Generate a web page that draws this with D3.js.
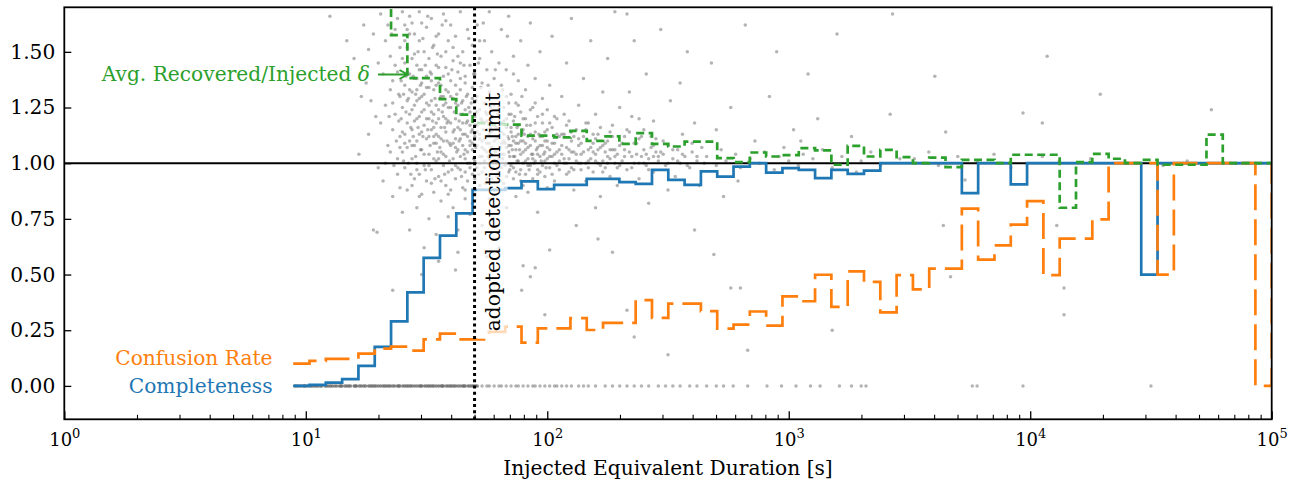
<!DOCTYPE html>
<html>
<head>
<meta charset="utf-8">
<title>Injection-recovery</title>
<script src="https://d3js.org/d3.v7.min.js"></script>
<style>
  body { margin: 0; background: #fff; }
  text { font-family: "DejaVu Serif", serif; }
</style>
</head>
<body>
<div id="chart"></div>
<script>
// histogram bins: 60 log-spaced bins from ~8.9 s up to 1e5 s, plus one bin past the axis
const binLo = 8.87, binHi = 1e5, nBins = 60;

// completeness per bin (last value lies beyond the x limit)
const completeness = [
  0.0, 0.005, 0.015, 0.03, 0.09, 0.175, 0.29, 0.42, 0.575, 0.675,
  0.775, 0.88, 0.88, 0.888, 0.918, 0.884, 0.903, 0.903, 0.93, 0.93,
  0.915, 0.907, 0.97, 0.925, 0.903, 0.963, 0.94, 0.985, 1.0, 0.958,
  0.978, 0.97, 0.933, 0.97, 0.952, 0.967, 1.0, 1.0, 1.0, 1.0,
  1.0, 0.866, 1.0, 1.0, 0.905, 1.0, 1.0, 1.0, 1.0, 1.0,
  1.0, 1.0, 0.5, 1.0, 1.0, 1.0, 1.0, 1.0, 1.0, 1.0,
  1.0
];

// confusion rate per bin
const confusion = [
  0.10, 0.112, 0.121, 0.121, 0.145, 0.167, 0.176, 0.158, 0.209, 0.235,
  0.209, 0.209, 0.243, 0.266, 0.194, 0.258, 0.258, 0.304, 0.251, 0.283,
  0.283, 0.385, 0.305, 0.369, 0.369, 0.336, 0.257, 0.275, 0.334, 0.271,
  0.402, 0.38, 0.499, 0.355, 0.514, 0.467, 0.33, 0.497, 0.433, 0.527,
  0.527, 0.796, 0.567, 0.631, 0.724, 0.83, 0.497, 0.661, 0.661, 0.748,
  1.0, 1.0, 1.0, 0.5, 1.0, 1.0, 1.0, 1.0, 1.0, 0.0,
  1.0
];

// average recovered / injected equivalent duration per bin (null = no value)
const ratio = [
  null, null, null, null, null, 1.9, 1.575, 1.382, 1.382, 1.288,
  1.218, 1.18, 1.175, 1.173, 1.124, 1.124, 1.116, 1.145, 1.10, 1.12,
  1.087, 1.135, 1.087, 1.075, 1.097, 1.097, 1.023, 1.005, 1.048, 1.03,
  1.036, 1.068, 1.058, 0.993, 1.078, 1.03, 1.06, 1.027, 1.0, 1.025,
  0.982, 1.015, 1.015, 1.0, 1.038, 1.038, 1.038, 0.8, 1.005, 1.042,
  1.02, 1.0, 1.015, 0.993, 0.993, 0.993, 1.128, 1.0, 1.0, 1.0,
  1.0
];

// individual injections: [log10 injected ED, recovered/injected ED]
const recovered = [
  [1.10,1.66],[1.17,1.55],[1.20,1.47],[1.22,1.04],[1.24,1.62],[1.25,1.36],[1.26,1.13],[1.27,1.28],[1.28,0.70],[1.28,1.58],
  [1.29,1.21],[1.30,1.45],[1.30,0.98],[1.23,1.30],[1.26,1.51],
  [1.31,1.67],[1.31,1.18],[1.32,1.40],[1.32,0.92],[1.33,1.55],[1.33,1.26],[1.34,1.08],[1.34,1.62],[1.35,1.33],[1.35,1.48],
  [1.36,1.15],[1.36,0.85],[1.37,1.60],[1.37,1.22],[1.38,1.41],[1.38,1.02],[1.38,0.95],[1.39,1.30],[1.39,1.52],[1.39,1.12],
  [1.40,1.68],[1.40,0.78],[1.36,1.37],[1.33,1.00],
  [1.40,1.25],[1.40,1.05],[1.41,1.45],[1.41,1.35],[1.41,0.98],[1.41,1.62],[1.42,1.18],[1.42,1.28],[1.42,0.88],[1.42,1.52],
  [1.43,1.10],[1.43,1.40],[1.43,1.22],[1.43,0.70],[1.43,1.66],[1.44,1.32],[1.44,1.02],[1.44,1.47],[1.44,1.15],[1.45,1.38],
  [1.45,0.93],[1.45,1.26],[1.45,1.58],[1.45,1.08],[1.46,1.20],[1.46,1.44],[1.46,0.80],[1.46,1.33],[1.46,1.00],[1.47,1.13],
  [1.47,1.29],[1.47,1.55],[1.47,0.95],[1.47,1.68],[1.48,1.36],[1.48,1.06],[1.48,1.23],[1.48,1.42],[1.48,0.86],[1.49,1.17],
  [1.49,1.31],[1.49,1.50],[1.49,0.99],[1.49,0.62],[1.50,1.27],[1.50,1.11],[1.50,1.39],[1.50,1.61],[1.44,1.24],[1.46,1.10],
  [1.50,0.92],[1.51,1.20],[1.51,1.34],[1.51,1.04],[1.51,1.47],[1.51,0.75],[1.52,1.15],[1.52,1.28],[1.52,1.65],[1.52,0.97],
  [1.52,1.40],[1.53,1.09],[1.53,1.22],[1.53,1.53],[1.53,0.87],[1.53,1.33],[1.54,1.01],[1.54,1.18],[1.54,1.44],[1.54,1.26],
  [1.54,0.68],[1.55,1.12],[1.55,1.36],[1.55,0.94],[1.55,1.58],[1.55,1.24],[1.56,1.05],[1.56,1.30],[1.56,1.16],[1.56,1.48],
  [1.56,0.83],[1.57,1.21],[1.57,0.99],[1.57,1.39],[1.57,1.10],[1.57,1.67],[1.58,1.27],[1.58,0.90],[1.58,1.14],[1.58,1.43],
  [1.58,1.03],[1.59,1.19],[1.59,1.32],[1.59,0.96],[1.59,1.55],[1.59,0.76],[1.60,1.08],[1.60,1.25],[1.60,1.37],[1.60,0.88],
  [1.53,1.12],[1.55,1.02],[1.57,1.30],[1.54,1.09],[1.58,1.20],
  [1.60,1.62],[1.61,1.14],[1.61,1.02],[1.61,1.29],[1.61,1.46],[1.61,0.80],[1.62,1.20],[1.62,0.93],[1.62,1.35],[1.62,1.07],
  [1.62,1.57],[1.63,1.16],[1.63,1.26],[1.63,0.98],[1.63,1.41],[1.63,0.70],[1.64,1.11],[1.64,1.22],[1.64,1.03],[1.64,1.33],
  [1.64,1.68],[1.65,0.89],[1.65,1.18],[1.65,1.08],[1.65,1.50],[1.65,1.28],[1.66,0.96],[1.66,1.13],[1.66,1.24],[1.66,1.39],
  [1.66,0.84],[1.67,1.05],[1.67,1.19],[1.67,1.31],[1.67,1.60],[1.67,0.92],[1.68,1.10],[1.68,1.00],[1.68,1.23],[1.68,1.44],
  [1.68,0.77],[1.69,1.15],[1.69,1.06],[1.69,1.34],[1.69,0.95],[1.69,1.53],[1.70,1.12],[1.70,1.21],[1.70,1.01],[1.70,0.86],
  [1.62,1.11],[1.64,1.15],[1.66,1.06],[1.68,1.17],[1.63,0.60],
  [1.70,1.40],[1.71,1.08],[1.71,1.17],[1.71,0.98],[1.71,1.30],[1.71,1.62],[1.72,1.03],[1.72,1.13],[1.72,1.24],[1.72,0.90],
  [1.72,1.47],[1.73,1.07],[1.73,1.19],[1.73,0.96],[1.73,1.36],[1.73,0.72],[1.74,1.11],[1.74,1.01],[1.74,1.27],[1.74,1.55],
  [1.75,1.05],[1.75,1.15],[1.75,0.93],[1.75,1.22],[1.75,1.42],[1.76,0.99],[1.76,1.09],[1.76,1.32],[1.76,0.84],[1.76,1.68],
  [1.77,1.04],[1.77,1.14],[1.77,1.20],[1.77,0.97],[1.77,1.50],[1.78,1.10],[1.78,1.01],[1.78,1.26],[1.78,0.88],[1.78,1.38],
  [1.79,1.06],[1.79,1.16],[1.79,0.94],[1.79,1.29],[1.79,0.66],[1.80,1.12],[1.80,1.02],[1.80,1.45],[1.80,1.21],[1.74,1.18],
  [1.81,0.98],[1.81,1.09],[1.81,1.18],[1.81,1.35],[1.81,1.60],[1.82,1.04],[1.82,1.13],[1.82,0.91],[1.82,1.25],[1.83,1.07],
  [1.83,1.00],[1.83,1.16],[1.83,1.42],[1.83,0.80],[1.84,1.11],[1.84,0.96],[1.84,1.22],[1.84,1.05],[1.84,1.66],[1.85,1.08],
  [1.85,1.31],[1.85,0.99],[1.85,1.14],[1.86,1.03],[1.86,1.19],[1.86,0.93],[1.86,1.48],[1.87,1.06],[1.87,1.12],[1.87,1.27],
  [1.87,0.85],[1.88,1.01],[1.88,1.09],[1.88,1.17],[1.88,1.37],[1.89,0.97],[1.89,1.04],[1.89,1.23],[1.89,1.55],[1.90,1.10],
  [1.90,1.00],[1.90,1.15],[1.90,0.90],[1.86,1.10],[1.83,1.30],
  [1.91,1.06],[1.91,1.20],[1.91,0.95],[1.91,1.33],[1.92,1.02],[1.92,1.12],[1.92,1.44],[1.92,0.87],[1.93,1.08],[1.93,0.99],
  [1.93,1.17],[1.93,1.63],[1.94,1.04],[1.94,1.25],[1.94,0.93],[1.95,1.10],[1.95,1.01],[1.95,1.14],[1.95,1.38],[1.96,0.97],
  [1.96,1.07],[1.96,1.21],[1.96,0.78],[1.97,1.03],[1.97,1.12],[1.97,1.50],[1.98,0.99],[1.98,1.08],[1.98,1.18],[1.98,1.29],
  [1.99,1.05],[1.99,0.94],[1.99,1.14],[2.00,1.02],[2.00,1.10],[2.00,1.24],[2.00,0.89],[2.01,1.06],[2.01,0.98],[2.01,1.35],
  [2.02,1.03],[2.02,1.16],[2.02,1.57],[2.03,1.00],[2.03,1.09],[2.03,0.92],[2.04,1.05],[2.04,1.20],[2.05,0.97],[2.05,1.12],
  [2.06,1.04],[2.06,1.30],[2.07,1.00],[2.07,1.13],[2.08,0.95],[2.08,1.07],[2.08,1.45],[2.09,1.02],[2.09,1.19],[2.10,0.98],
  [2.10,1.10],[2.10,1.65],[2.11,1.05],[2.11,0.88],[2.12,1.01],[2.12,1.15],[2.13,1.08],[2.13,1.26],[2.14,0.97],[2.14,1.04],
  [2.15,1.12],[2.15,1.38],[2.16,1.00],[2.16,0.92],[2.17,1.06],[2.17,1.18],[2.18,1.02],[2.18,1.55],[2.19,1.09],[2.19,0.96],
  [2.20,1.04],[2.20,1.22],[2.21,1.00],[2.21,1.13],[2.22,0.85],[2.22,1.07],[2.23,1.01],[2.23,1.32],[2.24,1.05],[2.24,0.98],
  [2.25,1.10],[2.25,1.47],[2.26,1.02],[2.26,0.94],[2.27,1.06],[2.27,1.17],[2.28,1.00],[2.28,1.68],[2.29,1.04],[2.29,0.90],
  [2.30,1.08],[2.30,1.25],[2.12,0.72],[2.20,0.80],[2.27,0.60],
  [2.31,1.01],[2.32,1.12],[2.33,0.97],[2.34,1.05],[2.35,1.21],[2.36,1.00],[2.37,1.09],[2.38,0.93],[2.39,1.03],[2.40,1.15],
  [2.41,1.40],[2.42,1.02],[2.43,1.07],[2.44,0.96],[2.45,1.11],[2.46,1.01],[2.47,1.60],[2.48,1.04],[2.49,0.99],[2.50,1.08],
  [2.51,1.28],[2.52,1.02],[2.53,0.94],[2.54,1.06],[2.55,1.00],[2.56,1.13],[2.57,1.03],[2.58,1.50],[2.59,0.98],[2.60,1.05],
  [2.61,1.18],[2.62,1.01],[2.63,0.90],[2.64,1.07],[2.34,1.32],[2.38,1.11],[2.44,1.19],[2.50,0.88],[2.36,1.55],[2.42,0.82],
  [2.55,1.36],[2.47,1.05],[2.33,1.67],[2.61,0.70],[2.40,1.00],
  [2.66,1.03],[2.68,1.45],[2.70,0.99],[2.72,1.06],[2.74,1.01],[2.76,1.25],[2.78,1.04],[2.80,0.98],[2.82,1.62],[2.84,1.02],
  [2.86,1.10],[2.88,1.00],[2.90,1.05],[2.92,1.30],[2.94,0.97],[2.96,1.03],[2.98,1.07],[3.00,1.01],[3.02,1.15],[3.04,0.99],
  [3.06,1.04],[3.08,1.40],[3.10,1.02],[3.14,1.06],[3.18,0.98],[3.22,1.03],[3.26,1.12],[3.30,1.01],[3.34,1.05],[3.38,0.99],
  [3.42,1.22],[3.46,1.02],[2.70,1.15],[2.79,0.92],[2.95,1.50],[3.12,1.20],[3.20,1.58],[2.73,0.85],[3.05,1.10],[3.28,0.96],
  [3.43,1.67],[3.605,1.39],[3.97,1.225],[4.07,1.48],[4.05,1.18],[3.65,1.14],[3.64,0.72],[3.67,0.49],[3.73,0.925],[4.29,1.31],
  [4.75,1.24],[4.11,0.72],[4.14,0.44],[4.14,0.32],
  [3.52,1.02],[3.58,1.05],[3.62,0.99],[3.70,1.03],[3.78,1.01],[3.85,1.04],[3.92,0.98],[4.05,1.03],[4.12,1.01],[4.25,1.02],
  [4.40,1.00],[4.55,0.99],[4.65,1.01],[4.85,1.00],
  [1.295,0.69],[1.36,0.43],[1.894,0.43],[1.99,0.32],[2.36,0.22],[2.50,0.14],[2.01,0.61],[1.90,0.54],[2.21,0.66],[2.33,0.34],
  [1.93,0.49],[1.95,0.53],[2.69,0.59],[2.76,0.44],[2.80,0.44],[2.83,0.16],[3.18,0.25],[1.62,0.52],[1.75,0.58],[1.55,0.56],
  [1.48,0.50],[1.80,0.62],
  [1.385,1.19],[1.39,1.07],[1.395,1.37],[1.40,1.14],[1.405,1.31],[1.41,1.09],[1.415,1.23],[1.42,1.41],[1.425,1.00],[1.43,1.33],
  [1.435,1.16],[1.44,1.08],[1.445,1.39],[1.45,1.19],[1.455,1.03],[1.46,1.28],[1.465,1.50],[1.47,1.21],[1.475,1.06],[1.48,1.30],
  [1.485,1.12],[1.49,1.24],[1.495,0.97],[1.50,1.34],[1.44,0.90],[1.47,0.85],[1.42,1.60],[1.48,1.63],[1.41,1.13],[1.46,1.38],
  [1.505,1.15],[1.51,1.26],[1.515,1.08],[1.52,1.37],[1.525,1.19],[1.53,1.02],[1.535,1.29],[1.54,1.13],[1.545,1.49],[1.55,1.20],
  [1.555,1.07],[1.56,1.35],[1.565,1.23],[1.57,1.04],[1.575,1.16],[1.58,1.33],[1.585,1.10],[1.59,1.25],[1.595,1.01],[1.60,1.18],
  [1.605,1.42],[1.61,1.09],[1.615,1.23],[1.62,0.99],[1.52,0.91],[1.56,0.92],[1.59,0.86],[1.54,1.57],[1.58,1.64],[1.51,1.12],
  [1.625,1.31],[1.63,1.06],[1.635,1.19],[1.64,0.97],[1.645,1.27],[1.65,1.13],[1.655,1.04],[1.66,1.36],[1.665,1.18],[1.67,1.00],
  [1.675,1.25],[1.68,1.08],[1.685,1.14],[1.69,1.29],[1.695,1.02],[1.70,1.17],[1.705,1.07],[1.71,1.23],[1.715,0.95],[1.72,1.11],
  [1.725,1.34],[1.73,1.03],[1.735,1.15],[1.74,1.06],[1.745,0.91],[1.75,1.19],[1.66,0.88],[1.69,0.82],[1.72,1.55],[1.64,1.45],
  [1.755,1.03],[1.76,1.13],[1.765,1.25],[1.77,1.07],[1.775,0.98],[1.78,1.17],[1.785,1.05],[1.79,1.11],[1.795,1.22],[1.80,0.96],
  [1.805,1.07],[1.81,1.14],[1.815,1.02],[1.82,1.19],[1.825,1.09],[1.83,0.94],[1.835,1.12],[1.84,1.27],[1.845,1.03],[1.85,1.16],
  [1.855,1.06],[1.86,0.98],[1.865,1.21],[1.87,1.09],[1.875,1.01],[1.88,1.13],[1.885,0.95],[1.89,1.10],[1.895,1.30],[1.90,1.05],
  [1.905,1.13],[1.91,1.01],[1.915,1.17],[1.92,1.07],[1.925,0.97],[1.93,1.24],[1.935,1.04],[1.94,1.11],[1.945,1.00],[1.95,1.18],
  [1.955,1.06],[1.96,0.95],[1.965,1.13],[1.97,1.08],[1.975,1.01],[1.98,1.22],[1.985,1.04],[1.99,1.10],[1.995,0.98],[2.00,1.15],
  [2.01,1.03],[2.02,1.09],[2.03,1.21],[2.04,0.99],[2.05,1.06],[2.06,1.13],[2.07,1.02],[2.08,1.17],[2.09,0.96],[2.10,1.05],
  [2.11,1.12],[2.13,1.00],[2.14,1.09],[2.16,1.15],[2.17,1.01],[2.19,1.05],[2.20,1.11],[2.22,0.99],[2.23,1.08],[2.25,1.03],
  [2.26,1.14],[2.28,1.06],[2.29,0.98],[2.31,1.09],[2.32,1.03],[2.34,1.14],[2.35,0.98],[2.37,1.04],[2.38,1.20],[2.40,1.06],
  [2.41,0.99],[2.43,1.12],[2.44,1.03],[2.45,1.05],
  [1.345,1.21],[1.35,1.05],[1.355,1.58],[1.36,1.27],[1.365,0.99],[1.37,1.44],[1.375,1.10],[1.38,1.65],[1.385,1.31],[1.39,0.89],
  [1.395,1.20],[1.40,1.47],[1.405,1.01],[1.41,1.55],[1.415,1.39],[1.42,1.07],[1.425,1.29],[1.43,1.58],[1.435,0.95],[1.44,1.63],
  [1.445,1.12],[1.45,1.49],[1.455,1.31],[1.46,0.97],[1.465,1.16],[1.47,1.42],[1.475,1.35],[1.48,1.14],[1.485,1.56],[1.49,1.04],
  [1.495,1.44],[1.50,1.20],[1.505,1.66],[1.51,0.99],[1.515,1.41],[1.52,1.23],[1.525,1.52],[1.53,1.16],[1.535,0.93],[1.54,1.35],
  [1.545,1.05],[1.55,1.43],[1.555,1.29],[1.56,1.11],[1.565,1.62],[1.57,1.26],[1.575,0.95],[1.58,1.50],[1.585,1.18],[1.59,1.40],
  [1.595,1.09],[1.60,1.30],[1.605,0.97],[1.61,1.52],[1.615,1.15],[1.62,1.27],[1.625,1.05],[1.63,1.48],[1.635,1.10],[1.64,1.38],
  [1.645,0.94],[1.65,1.22],[1.655,1.44],[1.66,1.02],[1.665,1.30],[1.67,1.12],[1.675,1.56],[1.68,0.98],[1.685,1.27],[1.69,1.09],
  [1.695,1.40],[1.70,0.93],[1.705,1.28],[1.71,1.14],[1.715,1.45],[1.72,1.00],[1.725,1.20],[1.73,1.10],[1.735,1.63],[1.74,0.98],
  [1.745,1.23],[1.75,1.09],[1.755,1.35],[1.76,1.02],[1.765,1.16],[1.77,0.93],[1.775,1.29],[1.78,1.06],[1.785,1.42],[1.79,1.00],
  [1.795,1.12],[1.80,1.25],[1.805,0.92],[1.81,1.04],[1.815,1.33],[1.82,1.10],[1.825,0.99],[1.83,1.20],[1.835,1.57],[1.84,1.08],
  [1.845,0.97],[1.85,1.22],[1.855,1.12],[1.86,1.40],[1.865,1.03],[1.87,0.96],[1.875,1.16],[1.88,1.26],[1.885,1.06],[1.89,0.92],
  [1.895,1.14],[1.90,1.20],[1.91,1.09],[1.92,0.99],[1.93,1.13],[1.94,1.02],[1.95,1.27],[1.96,1.04],[1.97,0.96],[1.98,1.12],
  [1.99,1.01],[2.00,1.07],[2.01,1.18],[2.02,0.95],[2.03,1.04],[2.04,1.13],[2.05,1.01],[2.06,1.08],[2.07,1.22],[2.08,1.00],
  [2.09,1.06],[2.10,1.14],[2.11,0.97],[2.12,1.04],[2.13,1.11],[2.14,1.00],[2.15,1.05],[2.16,1.18],[2.17,0.98],[2.18,1.07],
  [2.19,1.13],[2.20,1.01],[2.21,1.06],[2.22,1.16],[2.23,0.96],[2.24,1.09],[2.25,1.00],[2.26,1.06],[2.27,1.12],[2.28,1.03],
  [2.30,0.99],[2.32,1.06],[2.33,1.15],[2.35,1.03],[2.36,1.09],[2.38,1.00],[2.39,1.12],[2.41,1.04],[2.42,0.97],[2.44,1.08],
  [2.46,1.03],[2.48,1.10],[2.50,1.00],[2.52,1.06],[2.54,1.01],[2.56,1.04],[2.58,0.99],[2.60,1.09],[2.62,1.03],[2.65,1.00]
];

// injections that were not recovered (ratio 0): log10 injected ED
const missed = [
  0.955, 0.962, 0.97, 0.98, 0.99, 0.995, 1.0, 1.01, 1.02, 1.027, 1.035, 1.043, 1.05, 1.06, 1.066, 1.08, 1.087, 1.095,
  1.103, 1.11, 1.12, 1.128, 1.14, 1.145, 1.15, 1.162, 1.17, 1.178, 1.185, 1.2, 1.205, 1.21, 1.222, 1.23, 1.24, 1.247,
  1.26, 1.268, 1.275, 1.283, 1.29, 1.30, 1.31, 1.32, 1.327, 1.335, 1.343, 1.35, 1.36, 1.368, 1.38, 1.385, 1.39, 1.402,
  1.41, 1.418, 1.425, 1.433, 1.44, 1.45, 1.46, 1.47, 1.476, 1.48, 1.492, 1.50, 1.508, 1.515, 1.523, 1.53, 1.54, 1.55,
  1.56, 1.565, 1.57, 1.582, 1.59, 1.598, 1.605, 1.613, 1.62, 1.63, 1.64, 1.65, 1.655, 1.66, 1.672, 1.68, 1.688, 1.695,
  1.703, 1.71,
  1.73, 1.75, 1.76, 1.78, 1.80, 1.81, 1.83, 1.85, 1.87, 1.88, 1.90, 1.92, 1.94, 1.95, 1.97, 1.99, 2.01, 2.03,
  2.04, 2.06, 2.08, 2.10, 2.13, 2.15, 2.17, 2.20, 2.24, 2.27, 2.30, 2.33, 2.36, 2.39, 2.42, 2.46, 2.49, 2.52,
  2.55, 2.59, 2.62, 2.66, 2.70, 2.73, 2.77, 2.83, 2.91, 2.97, 3.03, 3.09, 3.13, 3.21, 3.26, 3.30, 3.32,
  3.76, 3.78, 3.97, 4.50
];

const detectionLimit = 50;       // s
const yTicks = [0, 0.25, 0.5, 0.75, 1.0, 1.25, 1.5];
const xMajor = [1, 10, 100, 1000, 10000, 100000];

const W = 1307, H = 483;
const pLeft = 64.3, pRight = 1271.7, pTop = 7.3, pBottom = 419.3;
const fs = "20.2px";

const svg = d3.select("#chart").append("svg")
    .attr("width", W).attr("height", H);

const x = d3.scaleLog().domain([1, 1e5]).range([pLeft, pRight]);
const y = d3.scaleLinear().domain([-0.15, 1.7]).range([pBottom, pTop]);

svg.append("clipPath").attr("id", "plotclip")
  .append("rect")
    .attr("x", pLeft).attr("y", pTop)
    .attr("width", pRight - pLeft).attr("height", pBottom - pTop);

const plot = svg.append("g").attr("clip-path", "url(#plotclip)");

// bin edges (log spaced), one extra bin beyond the axis
const edges = d3.range(nBins + 2).map(i => binLo * Math.pow(binHi / binLo, i / nBins));

// scatter of recovered injections
plot.append("g").selectAll("circle")
  .data(recovered)
  .enter().append("circle")
    .attr("cx", d => x(Math.pow(10, d[0])))
    .attr("cy", d => y(d[1]))
    .attr("r", 1.75)
    .attr("fill", "#6a6a6a")
    .attr("fill-opacity", 0.5);

plot.append("g").selectAll("circle")
  .data(missed)
  .enter().append("circle")
    .attr("cx", d => x(Math.pow(10, d)))
    .attr("cy", y(0))
    .attr("r", 1.75)
    .attr("fill", "#6a6a6a")
    .attr("fill-opacity", d => d < 1.72 ? 0.8 : 0.5);

// reference line at 1
plot.append("line")
    .attr("x1", pLeft).attr("x2", pRight)
    .attr("y1", y(1)).attr("y2", y(1))
    .attr("stroke", "#000").attr("stroke-width", 2);

// step path through bins, post style
function stepPath(vals) {
  let p = "", pen = false;
  vals.forEach((v, i) => {
    if (v === null) { pen = false; return; }
    const x0 = x(edges[i]), x1 = x(edges[i + 1]), yy = y(v);
    p += (pen ? "L" : "M") + x0 + "," + yy + "L" + x1 + "," + yy;
    pen = true;
  });
  return p;
}

plot.append("path")
    .attr("d", stepPath(completeness))
    .attr("fill", "none").attr("stroke", "#1f77b4").attr("stroke-width", 2.7);

plot.append("path")
    .attr("d", stepPath(confusion))
    .attr("fill", "none").attr("stroke", "#ff7f0e").attr("stroke-width", 2.7)
    .attr("stroke-dasharray", "26,9");

plot.append("path")
    .attr("d", stepPath(ratio))
    .attr("fill", "none").attr("stroke", "#2ca02c").attr("stroke-width", 2.7)
    .attr("stroke-dasharray", "8,4.5");

// adopted detection limit
plot.append("line")
    .attr("x1", x(detectionLimit)).attr("x2", x(detectionLimit))
    .attr("y1", pTop).attr("y2", pBottom)
    .attr("stroke", "#000").attr("stroke-width", 3)
    .attr("stroke-dasharray", "3,3.2");

const limX = x(detectionLimit);
svg.append("rect")
    .attr("x", limX + 2).attr("y", 87)
    .attr("width", 31).attr("height", 252)
    .attr("fill", "#fff").attr("fill-opacity", 0.7);

svg.append("text")
    .attr("transform", "translate(" + (limX + 25.5) + "," + 212 + ") rotate(-90)")
    .attr("text-anchor", "middle")
    .attr("font-size", fs)
    .attr("fill", "#000")
    .text("adopted detection limit");

// labels
svg.append("text")
    .attr("x", 272.5).attr("y", 365)
    .attr("text-anchor", "end")
    .attr("font-size", fs)
    .attr("fill", "#ff7f0e")
    .text("Confusion Rate");

svg.append("text")
    .attr("x", 272.5).attr("y", 393)
    .attr("text-anchor", "end")
    .attr("font-size", fs)
    .attr("fill", "#1f77b4")
    .text("Completeness");

const ann = svg.append("text")
    .attr("x", 370).attr("y", 81)
    .attr("text-anchor", "end")
    .attr("font-size", fs)
    .attr("fill", "#2ca02c");
ann.append("tspan").text("Avg. Recovered/Injected ");
ann.append("tspan").attr("font-style", "italic").text("δ");

svg.append("path")
    .attr("d", "M378,74.5H407.5M399.5,70L407.5,74.5L399.5,79")
    .attr("fill", "none").attr("stroke", "#2ca02c").attr("stroke-width", 2);

// axes
const yAxis = d3.axisLeft(y)
    .tickValues(yTicks)
    .tickSize(-7)
    .tickPadding(9)
    .tickFormat(d3.format(".2f"));

svg.append("g")
    .attr("transform", "translate(" + pLeft + ",0)")
    .call(yAxis)
    .call(g => g.select(".domain").remove())
    .call(g => g.selectAll(".tick line").attr("stroke-width", 1.3))
    .call(g => g.selectAll(".tick text")
        .attr("font-family", "DejaVu Serif").attr("font-size", fs).attr("fill", "#000"));

const xMinor = [];
xMajor.slice(0, -1).forEach(b => [2, 3, 4, 5, 6, 7, 8, 9].forEach(m => xMinor.push(b * m)));

svg.append("g")
    .attr("transform", "translate(0," + pBottom + ")")
    .call(d3.axisBottom(x).tickValues(xMinor).tickSize(-4.5).tickFormat(""))
    .call(g => g.select(".domain").remove())
    .call(g => g.selectAll(".tick line").attr("stroke-width", 1.1));

svg.append("g")
    .attr("transform", "translate(0," + pBottom + ")")
    .call(d3.axisBottom(x).tickValues(xMajor).tickSize(-8).tickPadding(13).tickFormat(""))
    .call(g => g.select(".domain").remove())
    .call(g => g.selectAll(".tick line").attr("stroke-width", 1.3))
    .call(g => g.selectAll(".tick text").each(function(d) {
        const t = d3.select(this)
            .attr("font-family", "DejaVu Serif").attr("font-size", "18px").attr("fill", "#000")
            .attr("dy", "13.4px");
        t.append("tspan").text("10");
        t.append("tspan").attr("dy", "-7.8px").attr("font-size", "13px")
            .text(Math.round(Math.log10(d)));
    }));

svg.append("text")
    .attr("x", (pLeft + pRight) / 2).attr("y", 475)
    .attr("text-anchor", "middle")
    .attr("font-size", fs)
    .text("Injected Equivalent Duration [s]");

// frame
svg.append("rect")
    .attr("x", pLeft).attr("y", pTop)
    .attr("width", pRight - pLeft).attr("height", pBottom - pTop)
    .attr("fill", "none").attr("stroke", "#000").attr("stroke-width", 1.8);
</script>
</body>
</html>
